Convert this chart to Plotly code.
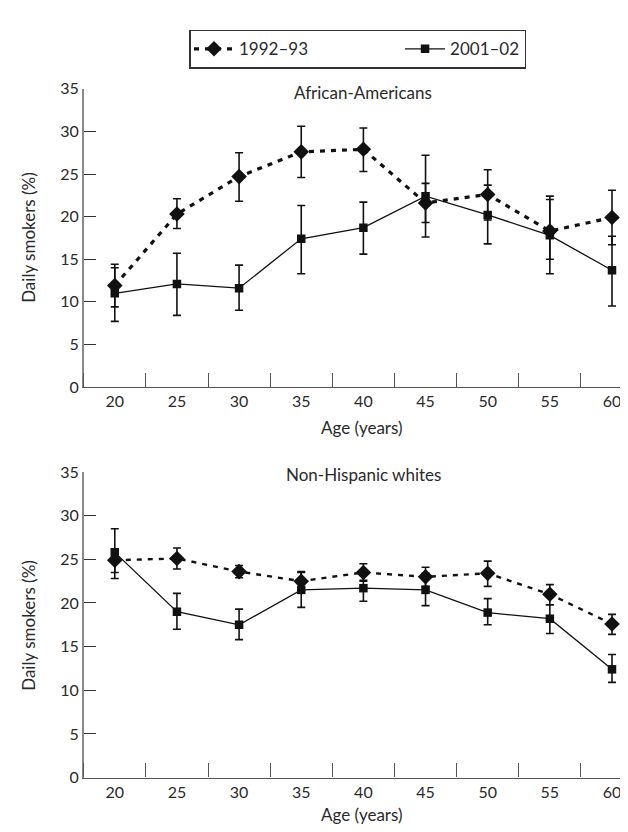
import plotly.graph_objects as go

ages = [20, 25, 30, 35, 40, 45, 50, 55, 60]
age_labels = ["20", "25", "30", "35", "40", "45", "50", "55", "60"]
series_names = ["1992–93", "2001–02"]
panel_titles = ["African-Americans", "Non-Hispanic whites"]

# African-Americans
aa_9293 = [11.9, 20.3, 24.7, 27.6, 27.9, 21.6, 22.6, 18.3, 19.9]
aa_9293_hi = [14.4, 22.1, 27.5, 30.6, 30.4, 23.9, 25.5, 22.0, 23.1]
aa_9293_lo = [9.4, 18.6, 21.8, 24.6, 25.3, 19.3, 19.6, 15.0, 16.7]
aa_0102 = [11.0, 12.1, 11.6, 17.4, 18.7, 22.4, 20.2, 17.8, 13.7]
aa_0102_hi = [14.0, 15.7, 14.3, 21.3, 21.7, 27.2, 23.7, 22.4, 17.7]
aa_0102_lo = [7.7, 8.4, 9.0, 13.3, 15.6, 17.6, 16.8, 13.3, 9.5]

# Non-Hispanic whites
nhw_9293 = [24.9, 25.1, 23.6, 22.5, 23.5, 23.0, 23.4, 21.0, 17.6]
nhw_9293_hi = [26.2, 26.3, 24.3, 23.6, 24.5, 24.1, 24.8, 22.1, 18.7]
nhw_9293_lo = [23.5, 23.9, 22.9, 21.4, 22.5, 21.9, 21.9, 19.8, 16.4]
nhw_0102 = [25.8, 19.0, 17.5, 21.5, 21.7, 21.5, 18.9, 18.2, 12.4]
nhw_0102_hi = [28.5, 21.1, 19.3, 23.5, 22.6, 23.4, 20.5, 19.8, 14.1]
nhw_0102_lo = [22.8, 17.0, 15.8, 19.5, 20.2, 19.7, 17.5, 16.5, 10.9]

y_ticks = [0, 5, 10, 15, 20, 25, 30, 35]

W, H = 628, 832
FONT = "Lato"
TXT = "#2a2a2a"
AX = "#555555"
PAD = "\u00a0" * 20  # spacing after the first legend entry


def err(v, hi, lo):
    return dict(type="data", symmetric=False,
                array=[h - x for h, x in zip(hi, v)],
                arrayminus=[x - l for x, l in zip(v, lo)],
                color="#111111", thickness=1.6, width=4)


fig = go.Figure()

panels = [
    ("x", "y", aa_9293, aa_9293_hi, aa_9293_lo, aa_0102, aa_0102_hi, aa_0102_lo, 3.2, True),
    ("x2", "y2", nhw_9293, nhw_9293_hi, nhw_9293_lo, nhw_0102, nhw_0102_hi, nhw_0102_lo, 2.4, False),
]
for xa, ya, v1, h1, l1, v2, h2, l2, dw, show in panels:
    fig.add_trace(go.Scatter(
        x=ages, y=v1, name=series_names[0] + PAD, xaxis=xa, yaxis=ya, mode="lines+markers",
        line=dict(color="#111111", width=dw, dash="5px,6px"),
        marker=dict(symbol="diamond", size=12, color="#111111"),
        error_y=err(v1, h1, l1), showlegend=show, legendgroup="a"))
    fig.add_trace(go.Scatter(
        x=ages, y=v2, name=series_names[1], xaxis=xa, yaxis=ya, mode="lines+markers",
        line=dict(color="#111111", width=1.3),
        marker=dict(symbol="square", size=8.5, color="#111111"),
        error_y=err(v2, h2, l2), showlegend=show, legendgroup="b"))

x_left = 75.7
x_dom = [x_left / W, 1.0]
px_per = (604.0 - x_left) / 42.5
x_range = [17.5, 17.5 + (W - x_left) / px_per]

xcommon = dict(
    range=x_range, tickmode="array", tickvals=ages, ticktext=age_labels,
    ticks="", showline=True, linecolor=AX, linewidth=1.4, showgrid=False, zeroline=False,
    tickfont=dict(family=FONT, size=16, color=TXT),
    minor=dict(tickmode="linear", tick0=17.5, dtick=5, ticks="inside", ticklen=14,
               tickcolor=AX, tickwidth=1.4, showgrid=False),
)
ycommon = dict(
    range=[0, 35], tickmode="array", tickvals=y_ticks, ticks="inside", ticklen=12,
    tickcolor="#333333", tickwidth=1.3, showline=True, linecolor="#8a8a8a", linewidth=1.6,
    showgrid=False, zeroline=False, tickfont=dict(family=FONT, size=16, color=TXT),
)

top_dom = [(H - 377.6) / H, (H - 72.5) / H]
bot_dom = [(H - 777.3) / H, (H - 464.7) / H]

fig.update_layout(
    width=W, height=H, margin=dict(l=0, r=0, t=0, b=0),
    paper_bgcolor="white", plot_bgcolor="white",
    font=dict(family=FONT, color=TXT),
    xaxis=dict(domain=x_dom, anchor="y", **xcommon),
    yaxis=dict(domain=top_dom, anchor="x", **ycommon),
    xaxis2=dict(domain=x_dom, anchor="y2", **xcommon),
    yaxis2=dict(domain=bot_dom, anchor="x2", **ycommon),
    legend=dict(orientation="h", x=349.5 / W, y=(H - 12) / H, xanchor="center", yanchor="top",
                bordercolor="#333333", borderwidth=1.5, bgcolor="white",
                font=dict(family=FONT, size=17, color=TXT), itemwidth=40),
    showlegend=True,
)

ann = [
    dict(text=panel_titles[0], x=355 / W, y=(H - 76) / H),
    dict(text=panel_titles[1], x=355 / W, y=(H - 467) / H),
    dict(text="Age (years)", x=354 / W, y=(H - 419) / H),
    dict(text="Age (years)", x=354 / W, y=(H - 815) / H),
    dict(text="Daily smokers (%)", x=21 / W, y=(H - 225) / H, textangle=-90),
    dict(text="Daily smokers (%)", x=21 / W, y=(H - 622) / H, textangle=-90),
]
for a in ann:
    fig.add_annotation(xref="paper", yref="paper", xanchor="center", yanchor="middle",
                       showarrow=False, font=dict(family=FONT, size=17, color=TXT), **a)

fig.write_html("out.html")
